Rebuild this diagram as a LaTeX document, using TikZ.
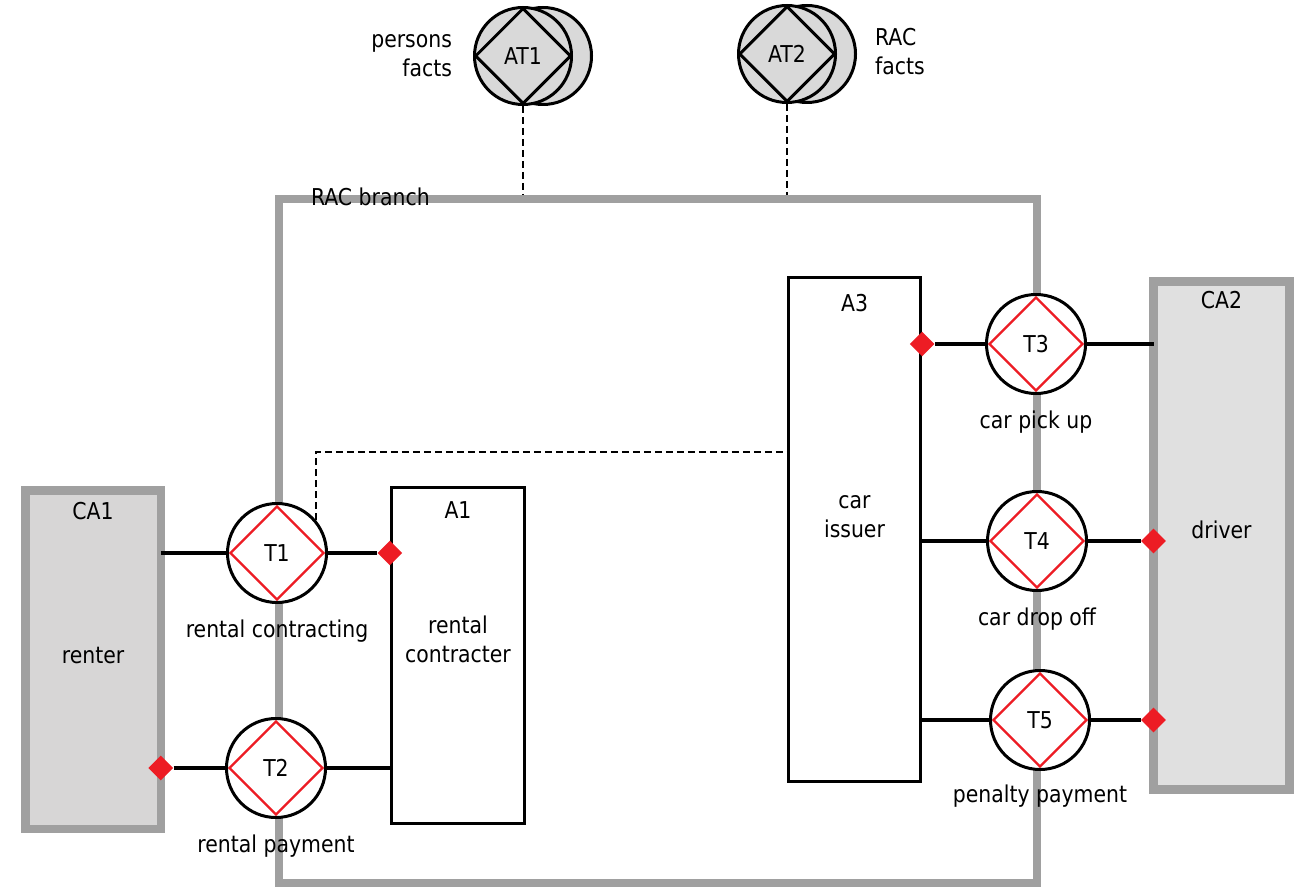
\documentclass[tikz,border=0pt]{standalone}
\usepackage{fontspec}
\setmainfont{DejaVu Sans}[FakeStretch=0.88]
\usepackage{tikz}
\usetikzlibrary{shapes.geometric,positioning}
\definecolor{framegray}{RGB}{160,160,160}
\definecolor{cagray}{RGB}{215,214,214}
\definecolor{cagraylight}{RGB}{224,224,224}
\definecolor{atgray}{RGB}{217,217,217}
\definecolor{demored}{RGB}{237,28,36}

\begin{document}
\begin{tikzpicture}[x=0.5pt, y=-0.5pt,
    font=\fontsize{11.6}{14.5}\selectfont,
    branch/.style={rectangle, draw=framegray, line width=4.25pt,
        minimum width=379pt, minimum height=342pt},
    composite/.style={rectangle, draw=framegray, line width=4.25pt,
        outer sep=0pt, minimum width=67.75pt},
    actor/.style={rectangle, draw=black, line width=1.6pt, fill=white,
        minimum width=66.5pt},
    trans/.style={circle, draw=black, line width=1.5pt, fill=white,
        minimum size=49.5pt, inner sep=0pt},
    tdiam/.style={diamond, draw=demored, line width=1.2pt,
        minimum size=47pt, inner sep=0pt},
    bank/.style={circle, draw=black, line width=1.5pt, fill=atgray,
        minimum size=48.5pt, inner sep=0pt},
    bdiam/.style={diamond, draw=black, line width=1.5pt,
        minimum size=48pt, inner sep=0pt},
    exec/.style={diamond, fill=demored, minimum size=12.5pt, inner sep=0pt},
    tcap/.style={label distance=4.5pt},
    boxname/.style={anchor=north, inner sep=0pt},
    boxbody/.style={align=center},
    link/.style={line width=1.75pt},
    infolink/.style={line width=1.4pt, dash pattern=on 3.5pt off 2pt}
]
    \useasboundingbox (0,0) rectangle (1299,893);
    % organisation boundary
    \node[branch, label={[anchor=west, xshift=14.6pt, yshift=-1pt]north west:RAC branch}] (RAC) at (658,541) {};
    % composites outside
    \node[composite, fill=cagray, minimum height=169.25pt,
        label={[boxname, yshift=-6pt]north:CA1},
        label={[boxbody, yshift=2pt]center:renter}] (CA1) at (93,659.5) {};
    \node[composite, fill=cagraylight, minimum width=68pt, minimum height=254pt,
        line width=4.5pt,
        label={[boxname, yshift=-4.5pt]north:CA2},
        label={[boxbody, yshift=3pt]center:driver}] (CA2) at (1221.5,535.5) {};
    % actors inside
    \node[actor, minimum height=168pt,
        label={[boxname, yshift=-7.75pt]north:A1},
        label={[boxbody, yshift=8pt]center:rental\\contracter}] (A1) at (458,655.5) {};
    \node[actor, minimum width=66pt, minimum height=252pt,
        label={[boxname, yshift=-9pt]north:A3},
        label={[boxbody, yshift=6.25pt]center:car\\issuer}] (A3) at (854.5,529.5) {};
    % transactions
    \node[trans, label={[tcap]below:rental contracting}] (T1) at (277,553) {T1};
    \node[tdiam] (T1d) at (T1) {};
    \node[trans, label={[tcap]below:rental payment}] (T2) at (276,768) {T2};
    \node[tdiam] (T2d) at (T2) {};
    \node[trans, label={[tcap]below:car pick up}] (T3) at (1036,344) {T3};
    \node[tdiam] (T3d) at (T3) {};
    \node[trans, label={[tcap]below:car drop off}] (T4) at (1037,541) {T4};
    \node[tdiam] (T4d) at (T4) {};
    \node[trans, label={[tcap, label distance=3.5pt]below:penalty payment}] (T5) at (1040,720) {T5};
    \node[tdiam] (T5d) at (T5) {};
    % fact banks
    \node[bank] (AT1b) at (543,56) {};
    \node[bank] (AT1) at (523,56) {AT1};
    \node[bdiam] (AT1d) at (AT1) {};
    \node[align=right, left=7pt of AT1] (AT1t) {persons\\facts};
    \node[bank] (AT2b) at (807,54) {};
    \node[bank] (AT2) at (787,54) {AT2};
    \node[bdiam] (AT2d) at (AT2) {};
    \node[align=left, right=5.5pt of AT2b, yshift=1pt] (AT2t) {RAC\\facts};
    % executor markers
    \node[exec] (x1) at (A1.west |- T1) {};
    \node[exec] (x2) at (CA1.east |- T2) {};
    \node[exec] (x3) at (A3.east |- T3) {};
    \node[exec] (x4) at (CA2.west |- T4) {};
    \node[exec] (x5) at (CA2.west |- T5) {};
    % links
    \draw[link] (CA1.east |- T1) -- (T1);
    \draw[link] (T1) -- (x1);
    \draw[link] (x2) -- (T2);
    \draw[link] (T2) -- (A1.west |- T2);
    \draw[link] (x3) -- (T3);
    \draw[link] (T3) -- (CA2.west |- T3);
    \draw[link] (A3.east |- T4) -- (T4);
    \draw[link] (T4) -- (x4);
    \draw[link] (A3.east |- T5) -- (T5);
    \draw[link] (T5) -- (x5);
    % information links
    \draw[infolink] (AT1) -- (AT1 |- RAC.north);
    \draw[infolink] (AT2) -- (AT2 |- RAC.north);
    \draw[infolink] (T1.40) |- (A3.west |- 0,452);
\end{tikzpicture}
\end{document}
